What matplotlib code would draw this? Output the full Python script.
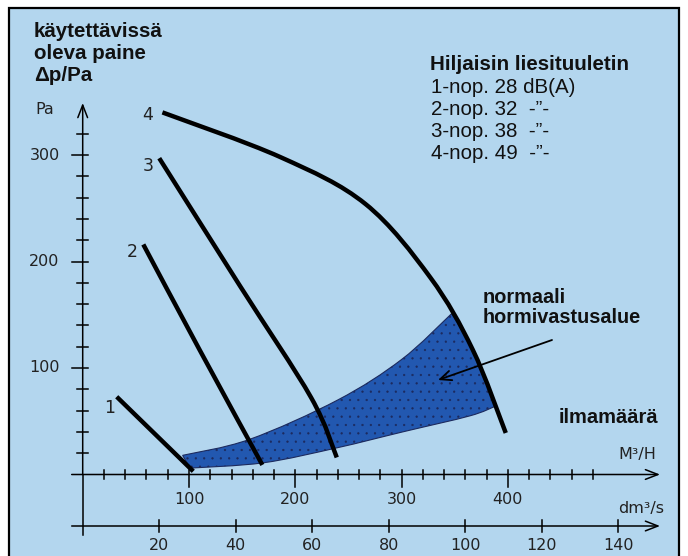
import numpy as np
import matplotlib
matplotlib.use("Agg")
import matplotlib.pyplot as plt
from matplotlib.patches import Rectangle, PathPatch
from matplotlib.path import Path

# fan curves, x = M3/H, y = Pa
c1_x = [32, 104]
c1_y = [73, 3]
c2_x = [57, 110, 169]
c2_y = [216, 117, 9]
c3_x = [72, 148, 215, 239]
c3_y = [297, 177, 72, 16]
c4_x = [75, 186, 266, 327, 367, 398]
c4_y = [340, 298, 254, 185, 117, 39]

# normal chimney resistance zone
upper_x = [94, 157, 240, 300, 347]
upper_y = [18, 33, 70, 108, 151]
lower_x = [101, 170, 239, 301, 364, 388]
lower_y = [6, 11, 25, 40, 55, 64]

m3h_ticks = np.arange(20, 500, 20)
m3h_labels = [100, 200, 300, 400]
dms_labels = [20, 40, 60, 80, 100, 120, 140]
pa_ticks = np.arange(20, 340, 20)
pa_labels = [100, 200, 300]

legend_lines = ["1-nop. 28 dB(A)", "2-nop. 32  -\u201d-",
                "3-nop. 38  -\u201d-", "4-nop. 49  -\u201d-"]

W, H = 688, 556
X0, SX = 82.7, 1.063   # pixel of x=0, px per M3/H
Y0, SY = 474.5, 1.065  # pixel of y=0, px per Pa

bg = "#b3d6ee"
fill_c = "#2258b0"

plt.rcParams["hatch.linewidth"] = 0.4
fig = plt.figure(figsize=(W / 100, H / 100), dpi=100, facecolor="white")
fig.patches.append(Rectangle((9 / W, -0.02), (679 - 9) / W, 1.02 - 8 / H, transform=fig.transFigure,
                             facecolor=bg, edgecolor="black", lw=1.6, zorder=-5))
ax = fig.add_axes([0, 0, 1, 1])
ax.set_zorder(1)
ax.set_xlim(-X0 / SX, (W - X0) / SX)
ax.set_ylim((Y0 - H) / SY, Y0 / SY)
ax.axis("off")


def fp(x, y):
    return x / W, 1 - y / H


def dx(p):
    return p / SX


def dy(p):
    return p / SY


def smooth(xs, ys):
    # catmull-rom through the points, as cubic bezier pieces
    p = np.column_stack([xs, ys]).astype(float)
    n = len(p)
    verts = [p[0]]
    codes = [Path.MOVETO]
    for i in range(n - 1):
        a = p[i - 1] if i > 0 else p[i]
        b = p[i + 2] if i + 2 < n else p[i + 1]
        verts += [p[i] + (p[i + 1] - a) / 6, p[i + 1] - (b - p[i]) / 6, p[i + 1]]
        codes += [Path.CURVE4] * 3
    return verts, codes


# shaded zone: upper edge, along curve 4, lower edge back
c4x = np.array(c4_x)
c4y = np.array(c4_y)
mask = (c4x > upper_x[-1]) & (c4x < lower_x[-1])
seg_x = np.concatenate([[upper_x[-1]], c4x[mask], [lower_x[-1]]])
seg_y = np.concatenate([[upper_y[-1]], c4y[mask], [lower_y[-1]]])
v1, k1 = smooth(upper_x, upper_y)
v2, k2 = smooth(seg_x, seg_y)
v3, k3 = smooth(lower_x[::-1], lower_y[::-1])
verts = v1 + v2[1:] + v3[1:] + [v1[0]]
codes = k1 + k2[1:] + k3[1:] + [Path.CLOSEPOLY]
ax.add_patch(PathPatch(Path(verts, codes), facecolor=fill_c, edgecolor="#1c2a5e",
                       hatch="..", lw=0.8, zorder=2))

# curves
for xs, ys in [(c1_x, c1_y), (c2_x, c2_y), (c3_x, c3_y), (c4_x, c4_y)]:
    v, k = smooth(xs, ys)
    ax.add_patch(PathPatch(Path(v, k), fill=False, edgecolor="black", lw=3.2,
                           capstyle="butt", joinstyle="round", zorder=4))

arrow = dict(arrowstyle="->,head_length=0.9,head_width=0.35", color="black", lw=1.1,
             shrinkA=0, shrinkB=0)
dms_y = -dy(51.5)

# y axis
ax.plot([0, 0], [dms_y - dy(9), 0], color="black", lw=1.1, zorder=3)
ax.annotate("", xy=(0, dy(Y0 - 103)), xytext=(0, 0), arrowprops=arrow, zorder=3)
for t in pa_ticks:
    left = dx(11) if t in pa_labels else dx(6)
    ax.plot([-left, dx(5)], [t, t], color="black", lw=1.1, zorder=3)
for t in pa_labels:
    ax.text(-dx(23), t, str(t), ha="right", va="center", fontsize=11.5, color="#222222")

# M3/H axis
ax.annotate("", xy=(dx(660 - X0), 0), xytext=(-dx(11), 0), arrowprops=arrow, zorder=3)
for t in m3h_ticks:
    low = -dy(12) if t in m3h_labels else -dy(4.5)
    ax.plot([t, t], [low, dy(4.5)], color="black", lw=1.1, zorder=3)
for t in m3h_labels:
    ax.text(t, -dy(24.5), str(t), ha="center", va="center", fontsize=11.5, color="#222222")

# dm3/s axis
ax.annotate("", xy=(dx(660 - X0), dms_y), xytext=(-dx(11), dms_y), arrowprops=arrow, zorder=3)
for t in dms_labels:
    ax.plot([t * 3.6, t * 3.6], [dms_y - dy(6), dms_y + dy(6)], color="black", lw=1.1)
    ax.text(t * 3.6, dms_y - dy(19), str(t), ha="center", va="center", fontsize=11.5,
            color="#222222")

# pointer arrow
ax.annotate("", xy=(dx(438 - X0), dy(Y0 - 380)), xytext=(dx(552 - X0), dy(Y0 - 340)),
            arrowprops=dict(arrowstyle="->,head_length=0.8,head_width=0.35", color="black",
                            lw=1.3, shrinkA=0, shrinkB=0), zorder=5)

# texts
bold = dict(fontfamily="Liberation Sans", fontweight="bold", color="#111111")
norm = dict(fontfamily="Liberation Sans", color="#111111")
for i, s in enumerate(["käytettävissä", "oleva paine", "\u0394p/Pa"]):
    fig.text(*fp(34, 37 + 22 * i), s, fontsize=14.8, va="baseline", **bold)
fig.text(*fp(35, 110), "Pa", fontsize=11.5, va="center", color="#222222")

fig.text(*fp(430, 70), "Hiljaisin liesituuletin", fontsize=14.8, va="baseline", **bold)
for i, s in enumerate(legend_lines):
    fig.text(*fp(431, 93 + 22 * i), s, fontsize=14.8, va="baseline", **norm)

fig.text(*fp(483, 303), "normaali", fontsize=14.3, va="baseline", **bold)
fig.text(*fp(483, 323), "hormivastusalue", fontsize=14.3, va="baseline", **bold)
fig.text(*fp(559, 423), "ilmamäärä", fontsize=14.5, va="baseline", **bold)

fig.text(*fp(637, 455), "M\u00b3/H", fontsize=11.5, ha="center", va="center", color="#222222")
fig.text(*fp(641, 508), "dm\u00b3/s", fontsize=11.5, ha="center", va="center", color="#222222")

for lab, x, y in [("4", 148, 115), ("3", 148, 166), ("2", 132, 252), ("1", 110, 408)]:
    fig.text(*fp(x, y), lab, fontsize=12.5, ha="center", va="center", color="#222222")

fig.savefig("out.png", dpi=100, facecolor="white")
